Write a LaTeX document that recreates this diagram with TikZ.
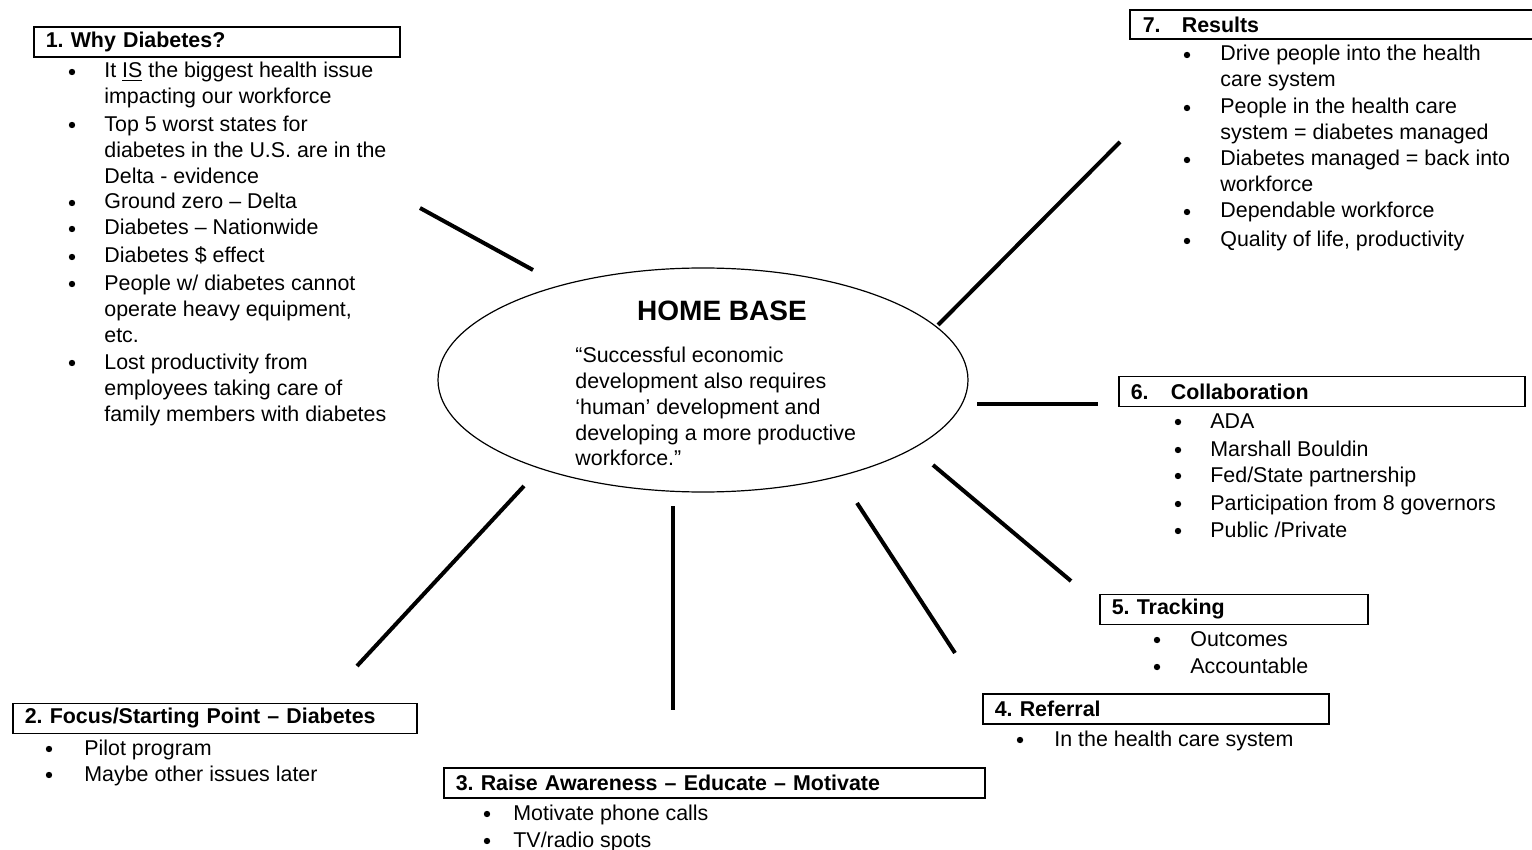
\documentclass[tikz,border=0pt]{standalone}
\usepackage{fontspec}
\setmainfont{Liberation Sans}
\usetikzlibrary{shapes.geometric}
\frenchspacing

\tikzset{
  hbox/.style={draw, line width=0.8pt, anchor=west, inner xsep=6pt, inner ysep=0pt,
    minimum height=15pt, text width=#1, align=left,
    font=\bfseries\fontsize{10.7}{13.2}\selectfont},
  % multi-line items: the base is the last line
  itm/.style={anchor=base west, inner sep=0pt, align=left,
    font=\fontsize{10.7}{13.2}\selectfont},
  spoke/.style={line width=2pt},
}
\newcommand{\bul}[2]{\fill (#1,#2) circle (1.6pt);}

\begin{document}
\begin{tikzpicture}[x=0.5pt, y=-0.5pt]
    \useasboundingbox (0,0) rectangle (1532,850);

    % centre
    \node[draw, ellipse, line width=0.6pt, minimum width=265pt, minimum height=112pt, inner sep=0pt] (home) at (703,380) {};
    \node[font=\bfseries\fontsize{14}{16}\selectfont] (title) at (722,311) {HOME BASE};
    \node[itm, font=\fontsize{10.7}{12.9}\selectfont] (quote) at (575,466) {“Successful economic\\development also requires\\‘human’ development and\\developing a more productive\\workforce.”};

    % spokes
    \coordinate (s1a) at (533,270); \coordinate (s1b) at (420,208);
    \coordinate (s2a) at (524,486); \coordinate (s2b) at (357,666);
    \coordinate (s3a) at (673,506); \coordinate (s3b) at (673,710);
    \coordinate (s4a) at (857,503); \coordinate (s4b) at (955,653);
    \coordinate (s5a) at (933,465); \coordinate (s5b) at (1071,581);
    \coordinate (s6a) at (977,404); \coordinate (s6b) at (1098,404);
    \coordinate (s7a) at (938,325); \coordinate (s7b) at (1120,142);
    \foreach \k in {1,...,7}
        \draw[spoke] (s\k a) -- (s\k b);

    % 1. why diabetes
    \node[hbox=171pt] (h1) at (33,42) {1. Why Diabetes?};
    \bul{72}{72}  \node[itm] (a1) at (104,104) {It \underline{IS} the biggest health issue\\impacting our workforce};
    \bul{72}{125} \node[itm] (a2) at (104,184) {Top 5 worst states for\\diabetes in the U.S. are in the\\Delta - evidence};
    \bul{72}{203} \node[itm] (a3) at (104,209) {Ground zero – Delta};
    \bul{72}{229} \node[itm] (a4) at (104,235) {Diabetes – Nationwide};
    \bul{72}{257} \node[itm] (a5) at (104,263) {Diabetes \$ effect};
    \bul{72}{284} \node[itm] (a6) at (104,343) {People w/ diabetes cannot\\operate heavy equipment,\\etc.};
    \bul{72}{363} \node[itm] (a7) at (104,422) {Lost productivity from\\employees taking care of\\family members with diabetes};

    % 2. focus
    \node[hbox=190pt] (h2) at (12,718.5) {2. Focus/Starting Point – Diabetes};
    \bul{49}{749} \node[itm] (b1) at (84,755) {Pilot program};
    \bul{49}{775} \node[itm] (b2) at (84,781) {Maybe other issues later};

    % 3. awareness
    \node[hbox=258.5pt] (h3) at (443,783) {3. Raise Awareness – Educate – Motivate};
    \bul{487}{814} \node[itm] (c1) at (513,820) {Motivate phone calls};
    \bul{487}{841} \node[itm] (c2) at (513,847) {TV/radio spots};

    % 4. referral
    \node[hbox=161pt] (h4) at (982,709) {4. Referral};
    \bul{1020}{740} \node[itm] (d1) at (1054,746) {In the health care system};

    % 5. tracking
    \node[hbox=122pt] (h5) at (1099,609.5) {5. Tracking};
    \bul{1157}{640} \node[itm] (e1) at (1190,646) {Outcomes};
    \bul{1157}{667} \node[itm] (e2) at (1190,673) {Accountable};

    % 6. collaboration
    \node[hbox=191pt] (h6) at (1118,391.5) {\makebox[20pt][l]{6.}Collaboration};
    \bul{1178}{422} \node[itm] (f1) at (1210,428) {ADA};
    \bul{1178}{450} \node[itm] (f2) at (1210,456) {Marshall Bouldin};
    \bul{1178}{476} \node[itm] (f3) at (1210,482) {Fed/State partnership};
    \bul{1178}{504} \node[itm] (f4) at (1210,510) {Participation from 8 governors};
    \bul{1178}{531} \node[itm] (f5) at (1210,537) {Public /Private};

    % 7. results (box runs off the page)
    \node[hbox=191pt, draw=none] (h7) at (1130,24.5) {\makebox[19.5pt][l]{7.}Results};
    \draw[line width=0.8pt] (1532,10) -| (1130,39) -- (1532,39);
    \bul{1187}{55}  \node[itm] (g1) at (1220,87) {Drive people into the health\\care system};
    \bul{1187}{108} \node[itm] (g2) at (1220,140) {People in the health care\\system = diabetes managed};
    \bul{1187}{160} \node[itm] (g3) at (1220,192) {Diabetes managed = back into\\workforce};
    \bul{1187}{212} \node[itm] (g4) at (1220,218) {Dependable workforce};
    \bul{1187}{241} \node[itm] (g5) at (1220,247) {Quality of life, productivity};
\end{tikzpicture}
\end{document}
